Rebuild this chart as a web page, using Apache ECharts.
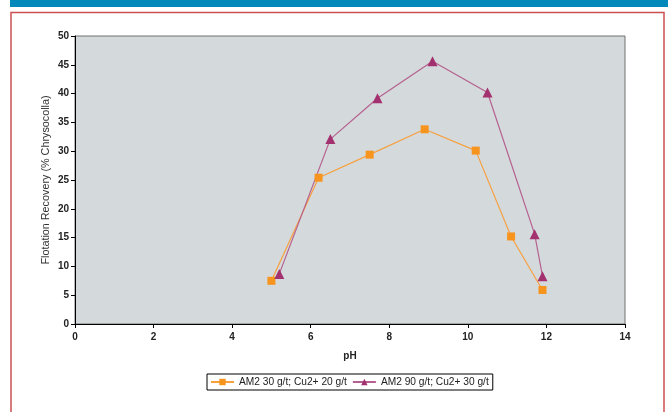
<!DOCTYPE html>
<html><head><meta charset="utf-8">
<script src="https://cdn.jsdelivr.net/npm/echarts@6/dist/echarts.min.js"></script>
<style>html,body{margin:0;padding:0;background:#fff}#c{width:668px;height:412px}</style>
</head><body><div id="c"></div>
<script>
const seriesNames = ['AM2 30 g/t; Cu2+ 20 g/t', 'AM2 90 g/t; Cu2+ 30 g/t'];
const phAM2_30 = [5.0, 6.2, 7.5, 8.9, 10.2, 11.1, 11.9];
const recAM2_30 = [7.5, 25.4, 29.4, 33.8, 30.1, 15.2, 5.9];
const phAM2_90 = [5.2, 6.5, 7.7, 9.1, 10.5, 11.7, 11.9];
const recAM2_90 = [8.7, 32.1, 39.2, 45.6, 40.2, 15.6, 8.3];
const xTicks = [0, 2, 4, 6, 8, 10, 12, 14];
const yTicks = [0, 5, 10, 15, 20, 25, 30, 35, 40, 45, 50];

const chart = echarts.init(document.getElementById('c'), null, {renderer: 'canvas'});
const font = 'Liberation Sans, Arial, sans-serif';
chart.setOption({
  animation: false,
  backgroundColor: '#fff',
  textStyle: {fontFamily: font},
  graphic: [
    {type: 'rect', shape: {x: 10, y: 0, width: 658, height: 7}, style: {fill: '#0088bb'}, silent: true},
    {type: 'rect', shape: {x: 11, y: 12.5, width: 653, height: 420}, style: {fill: 'none', stroke: '#cc5050', lineWidth: 1.5}, silent: true}
  ],
  grid: {left: 75, right: 43, top: 36, bottom: 88, show: true, backgroundColor: '#d4d9db', borderColor: '#707070', borderWidth: 1},
  legend: {
    left: 207, top: 374,
    orient: 'horizontal',
    borderColor: '#000', borderWidth: 1, padding: [3, 4, 3, 3],
    itemWidth: 23, itemHeight: 8, itemGap: 5,
    textStyle: {fontFamily: font, fontSize: 10.2, color: '#222'},
    data: seriesNames
  },
  xAxis: {
    type: 'value', min: xTicks[0], max: xTicks[xTicks.length - 1], interval: 2,
    name: 'pH', nameLocation: 'middle', nameGap: 27,
    nameTextStyle: {fontFamily: font, fontSize: 10, fontWeight: 'bold', color: '#222'},
    axisLine: {show: true, lineStyle: {color: '#000', width: 1}},
    axisTick: {show: true, length: 4, lineStyle: {color: '#000'}},
    axisLabel: {fontFamily: font, fontSize: 10, fontWeight: 'bold', color: '#222', margin: 8},
    splitLine: {show: false}
  },
  yAxis: {
    type: 'value', min: yTicks[0], max: yTicks[yTicks.length - 1], interval: 5,
    name: 'Flotation Recovery (% Chrysocolla)', nameLocation: 'middle', nameGap: 23,
    nameMoveOverlap: false,
    nameTextStyle: {fontFamily: font, fontSize: 10.8, color: '#333'},
    axisLine: {show: true, lineStyle: {color: '#000', width: 1}},
    axisTick: {show: true, length: 4, lineStyle: {color: '#000'}},
    axisLabel: {fontFamily: font, fontSize: 10, fontWeight: 'bold', color: '#222', margin: 6},
    splitLine: {show: false}
  },
  series: [
    {
      name: seriesNames[0], type: 'line',
      data: phAM2_30.map((x, i) => [x, recAM2_30[i]]),
      symbol: 'rect', symbolSize: 8,
      itemStyle: {color: '#f7941d'},
      lineStyle: {color: '#f7a040', width: 1.2}
    },
    {
      name: seriesNames[1], type: 'line',
      data: phAM2_90.map((x, i) => [x, recAM2_90[i]]),
      symbol: 'triangle', symbolSize: 10,
      itemStyle: {color: '#a3306f'},
      lineStyle: {color: '#b5608f', width: 1.2}
    }
  ]
});
</script></body></html>
